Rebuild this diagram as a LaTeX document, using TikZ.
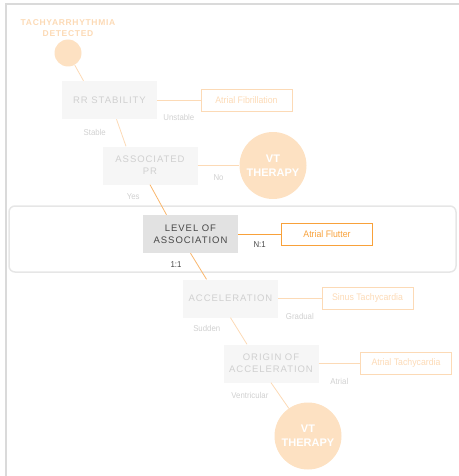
\documentclass[tikz,border=0pt]{standalone}
\usepackage{fontspec}
\setmainfont{Liberation Sans}
\newfontfamily\capsfont[LetterSpace=10]{Liberation Sans}
\newfontfamily\titlefont[LetterSpace=8]{Liberation Sans}
\newfontfamily\narrowfont[FakeStretch=0.92]{Liberation Sans}
\usetikzlibrary{calc}

\definecolor{framegray}{HTML}{DADADA}
\definecolor{bandgray}{HTML}{E6E6E6}
\definecolor{fadefill}{HTML}{F6F6F6}
\definecolor{fadetext}{HTML}{D0D0D0}
\definecolor{fadeorange}{HTML}{FCDAB6}
\definecolor{peach}{HTML}{FDE1C2}
\definecolor{hotorange}{HTML}{F8A13A}
\definecolor{midorange}{HTML}{F9B66C}
\definecolor{lvlfill}{HTML}{E2E2E2}
\definecolor{darktext}{HTML}{474747}

\tikzset{
	fadebox/.style={fill=fadefill, text=fadetext, minimum width=95, minimum height=38, inner sep=0pt, align=center, font=\capsfont\fontsize{9.5}{12}\selectfont},
	hotbox/.style={fadebox, fill=lvlfill, text=darktext},
	fadeout/.style={draw=fadeorange, line width=0.8pt, text=fadeorange, minimum width=91, minimum height=22, inner sep=0pt, font=\narrowfont\fontsize{9.5}{11}\selectfont},
	hotout/.style={fadeout, draw=hotorange, text=hotorange},
	vtdot/.style={circle, fill=peach, text=white, minimum size=67, inner sep=0pt, align=center, font=\bfseries\fontsize{11}{14}\selectfont},
	startdot/.style={circle, fill=peach, minimum size=27, inner sep=0pt},
	fadeline/.style={draw=fadeorange, line width=0.8pt},
	lbl/.style={text=fadetext, inner sep=0pt, font=\narrowfont\fontsize{8.5}{10}\selectfont},
	hotlbl/.style={lbl, text=darktext}
}

\begin{document}
\begin{tikzpicture}[x=1pt, y=-1pt]
			%%%%% START %%%%%
			\useasboundingbox (0,0) rectangle (458,476);
			
			\draw[framegray, line width=2pt] (6,477) -- (6,4) -- (459,4);
			\draw[bandgray, line width=1.5pt, rounded corners=6pt] (9,206) rectangle (456,272);
			
			\node[text=fadeorange, align=center, font=\titlefont\bfseries\fontsize{8.5}{11}\selectfont] (title) at (68,28) {TACHYARRHYTHMIA\\DETECTED};
			\node[startdot] (start) at (68,53) {};
			
			\node[fadebox] (rr) at (109.5,100) {RR STABILITY};
			\node[fadeout] (afib) at (246.5,100) {Atrial Fibrillation};
			
			\node[fadebox] (apr) at (150,165.5) {ASSOCIATED\\PR};
			\node[vtdot] (vta) at (273,165.5) {VT\\THERAPY};
			
			\node[hotbox] (loa) at (190.5,234) {LEVEL OF\\ASSOCIATION};
			\node[hotout] (aflut) at (327,234) {Atrial Flutter};
			
			\node[fadebox] (acc) at (230.5,298.5) {ACCELERATION};
			\node[fadeout] (stach) at (367.5,298.5) {Sinus Tachycardia};
			
			\node[fadebox] (ooa) at (271,363.5) {ORIGIN OF\\ACCELERATION};
			\node[fadeout] (atach) at (406,363.5) {Atrial Tachycardia};
			
			\node[vtdot] (vtb) at (308,436) {VT\\THERAPY};
			
			\draw[fadeline] (start) -- ([xshift=-26pt]rr.north);
			\draw[fadeline] (rr) -- node[lbl, yshift=-17pt] {Unstable} (afib);
			\draw[fadeline] ([xshift=7pt]rr.south) -- node[lbl, xshift=-26.5pt] {Stable} ([xshift=-24pt]apr.north);
			\draw[fadeline] (apr) -- node[lbl, yshift=-12.5pt] {No} (vta);
			\draw[midorange, line width=0.8pt] (apr.south) -- node[lbl, xshift=-25pt, yshift=3pt] {Yes} ([xshift=-24pt]loa.north);
			\draw[hotorange, line width=1pt] (loa) -- node[hotlbl, yshift=-11pt] {N:1} (aflut);
			\draw[midorange, line width=0.8pt] (loa.south) -- node[hotlbl, xshift=-22.5pt, yshift=2pt] {1:1} ([xshift=-24pt]acc.north);
			\draw[fadeline] (acc) -- node[lbl, yshift=-17.5pt] {Gradual} (stach);
			\draw[fadeline] (acc.south) -- node[lbl, xshift=-32pt, yshift=3pt] {Sudden} ([xshift=-24pt]ooa.north);
			\draw[fadeline] (ooa) -- node[lbl, yshift=-17.5pt] {Atrial} (atach);
			\draw[fadeline] (ooa.south) -- node[lbl, xshift=-30pt] {Ventricular} (vtb);
			
			%%%%% END %%%%%
\end{tikzpicture}
\end{document}
